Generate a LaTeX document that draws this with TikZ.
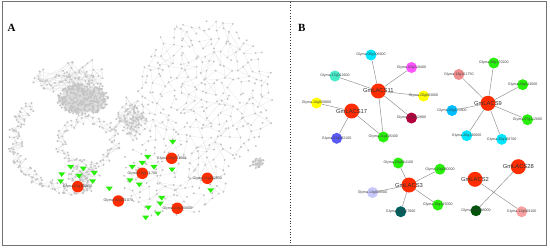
\documentclass[tikz,border=0pt]{standalone}
\usepackage{fontspec}
\setmainfont{Liberation Serif}
\newfontfamily\labelfont{Liberation Sans}
\usetikzlibrary{shapes.geometric}

\definecolor{lacsred}{RGB}{255,45,0}
\definecolor{gcyan}{RGB}{0,230,255}
\definecolor{gturq}{RGB}{70,235,200}
\definecolor{gmagenta}{RGB}{255,85,255}
\definecolor{gyellow}{RGB}{255,255,0}
\definecolor{gcrimson}{RGB}{180,0,60}
\definecolor{ggreen}{RGB}{40,240,10}
\definecolor{gslate}{RGB}{90,90,250}
\definecolor{gpink}{RGB}{240,140,140}
\definecolor{gsky}{RGB}{0,190,255}
\definecolor{glavender}{RGB}{200,200,250}
\definecolor{gteal}{RGB}{0,95,95}
\definecolor{gdkgreen}{RGB}{0,85,10}
\definecolor{glpink}{RGB}{250,160,160}

\newcommand\graywalk[7]{%
	\coordinate (#1-0) at (#3,#4);
	\xdef\wkx{#3}\xdef\wky{#4}
	\foreach \i [count=\k from 0] in {1,...,#2}{
		\pgfmathsetmacro\nwx{\wkx+#7*rand}
		\pgfmathsetmacro\nwy{\wky+#7*rand}
		\pgfmathsetmacro\wdd{((\nwx-#3)/#5)^2+((\nwy-#4)/#6)^2}
		\pgfmathsetmacro\nwx{\wdd>1 ? 2*\wkx-\nwx : \nwx}
		\pgfmathsetmacro\nwy{\wdd>1 ? 2*\wky-\nwy : \nwy}
		\xdef\wkx{\nwx}\xdef\wky{\nwy}
		\pgfmathtruncatemacro\wjj{max(0,\i-2-6*rnd)}
		\coordinate (#1-\i) at (\nwx,\nwy);
		\draw[link] (#1-\k) -- (#1-\i) -- (#1-\wjj);
	}
}
\newcommand\grayblob[6]{%
	\foreach \i in {0,...,#2}{
		\pgfmathsetmacro\wang{360*rnd}
		\pgfmathsetmacro\wrad{sqrt(rnd)}
		\coordinate (#1-\i) at ({#3+#5*\wrad*cos(\wang)},{#4+#6*\wrad*sin(\wang)});
		\ifnum\i>0
			\pgfmathtruncatemacro\wjj{\i*rnd}
			\pgfmathtruncatemacro\wkk{\i-1}
			\draw[link] (#1-\wkk) -- (#1-\i) -- (#1-\wjj);
		\fi
	}
}
\newcommand\grayarc[9]{%
	\foreach \i in {0,...,#2}{
		\pgfmathsetmacro\wang{#7+(#8-#7)/#2*\i+4*rand}
		\pgfmathsetmacro\wrad{1+#9*rand}
		\coordinate (#1-\i) at ({#3+#5*\wrad*cos(\wang)},{#4+#6*\wrad*sin(\wang)});
		\ifnum\i>0
			\pgfmathtruncatemacro\wjj{max(0,\i-1-4*rnd)}
			\pgfmathtruncatemacro\wkk{\i-1}
			\draw[link] (#1-\wkk) -- (#1-\i) -- (#1-\wjj);
		\fi
	}
}
\newcommand\inmask[2]{%
	\pgfmathtruncatemacro\wmask{or(((#1-205)/68)^2+((#2-95)/78)^2<1, ((#1-172)/58)^2+((#2-178)/40)^2<1)}%
}
\newcommand\gridlink[3]{%
	\pgfmathtruncatemacro\wnr{\gr-#1}\pgfmathtruncatemacro\wnc{\gc-#2}%
	\pgfmathsetmacro\wnx{126+7.5*\wnc}\pgfmathsetmacro\wny{17+7.5*\wnr}%
	\inmask{\wnx}{\wny}%
	\pgfmathtruncatemacro\wp{(rnd<#3)*\wmask*(\wnc>=0)*(\wnc<21)*(\wnr>=0)}%
	\ifnum\wp=1 \draw[link] (net-\wnr-\wnc) -- (net-\gr-\gc);\fi
}

\begin{document}
\begin{tikzpicture}[x=1pt,y=-1pt]
	\tikzset{link/.style = {draw=black!15, line width=0.15pt}}
	\tikzset{dot/.style = {fill=black!23}}
	\tikzset{edge/.style = {draw=black!45, line width=0.45pt}}
	\tikzset{hub/.style = {shape=circle, fill=lacsred, minimum size=15pt, inner sep=0pt,
		label={[hublabel]center:#1}}}
	\tikzset{hublabel/.style = {font=\labelfont\fontsize{5.8}{6}\selectfont, text=black!80}}
	\tikzset{gene/.style = {shape=circle, minimum size=11pt, inner sep=0pt,
		label={[genelabel]center:#1}}}
	\tikzset{genelabel/.style = {font=\labelfont\fontsize{3.6}{4}\selectfont, text=black!75}}
	\tikzset{seed/.style = {shape=circle, fill=lacsred, minimum size=11.5pt, inner sep=0pt,
		label={[genelabel]center:#1}}}
	\tikzset{vmark/.style = {isosceles triangle, shape border rotate=270, isosceles triangle apex angle=75,
		fill=ggreen, minimum size=4.6pt, inner sep=0pt}}
	\tikzset{panel/.style = {font=\bfseries\fontsize{11}{12}\selectfont}}
	\useasboundingbox (0,0) rectangle (550,247);
	\fill[white] (0,0) rectangle (550,247);
	\draw[black!55, line width=0.8pt] (2.5,1.5) rectangle (546.5,245.5);
	\draw[black!80, line width=0.7pt, dotted] (290,2) -- (290,245);

	\pgfmathsetseed{4242}
	\graywalk{upper}{90}{75}{78}{45}{22}{10}
	\grayblob{core}{300}{83}{99}{26}{16}
	\graywalk{mid}{90}{125}{118}{22}{28}{9}
	\graywalk{lowleft}{50}{80}{178}{25}{12}{8}
	\graywalk{east}{40}{253}{162}{11}{7}{4}
	\grayarc{ring}{80}{88}{142}{27}{23}{0}{360}{0.22}
	\grayarc{outer}{110}{75}{140}{60}{50}{225}{75}{0.12}
	\foreach \gr in {0,...,26}{
		\foreach \gc in {0,...,20}{
			\pgfmathsetmacro\wgx{126+7.5*\gc}
			\pgfmathsetmacro\wgy{17+7.5*\gr}
			\inmask{\wgx}{\wgy}
			\ifnum\wmask=1
				\coordinate (net-\gr-\gc) at ({\wgx+3.8*rand},{\wgy+3.8*rand});
				\gridlink{0}{1}{0.5}
				\gridlink{1}{0}{0.45}
				\gridlink{1}{-1}{0.25}
				\gridlink{2}{1}{0.12}
				\gridlink{1}{2}{0.1}
			\fi
		}
	}
	\foreach \c/\n in {upper/90, core/300, mid/90, lowleft/50, east/40, ring/80, outer/110}{
		\foreach \i in {0,...,\n} \fill[dot] (\c-\i) circle (1.05pt);
	}
	\foreach \gr in {0,...,26}{
		\foreach \gc in {0,...,20}{
			\inmask{126+7.5*\gc}{17+7.5*\gr}
			\ifnum\wmask=1 \fill[dot] (net-\gr-\gc) circle (1.05pt);\fi
		}
	}

	\node[vmark] (v1) at (70.7,166.7) {};
	\node[vmark] (v2) at (83.3,168.3) {};
	\node[vmark] (v3) at (61.7,174) {};
	\node[vmark] (v4) at (79,175.7) {};
	\node[vmark] (v5) at (94.3,172.7) {};
	\node[vmark] (v6) at (60.7,181) {};
	\node[vmark] (v7) at (92.7,181) {};
	\node[vmark] (v8) at (109.3,188.3) {};
	\node[vmark] (v9) at (147.7,156.7) {};
	\node[vmark] (v10) at (142.3,162.7) {};
	\node[vmark] (v11) at (132.3,166.7) {};
	\node[vmark] (v12) at (154,166.7) {};
	\node[vmark] (v13) at (172.7,141.7) {};
	\node[vmark] (v14) at (172,169.3) {};
	\node[vmark] (v15) at (130,180) {};
	\node[vmark] (v16) at (139.3,184.3) {};
	\node[vmark] (v17) at (210.7,190) {};
	\node[vmark] (v18) at (161.7,197.7) {};
	\node[vmark] (v19) at (160.3,203.3) {};
	\node[vmark] (v20) at (148.3,207.3) {};
	\node[vmark] (v21) at (158,213.3) {};
	\node[vmark] (v22) at (145.7,217.3) {};
	\node[seed=Glyma.01g160850] (s1) at (77.7,186.7) {};
	\node[seed=Glyma.02g201070] (s2) at (118.3,201) {};
	\node[seed=Glyma.10g171780] (s3) at (142.3,173.3) {};
	\node[seed=Glyma.20g031080] (s4) at (171.7,158.3) {};
	\node[seed=Glyma.11g202030] (s5) at (207.3,178.3) {};
	\node[seed=Glyma.03g200000] (s6) at (177.3,208.3) {};
	\node[panel] (pa) at (11.7,28.3) {A};

	\node[panel] (pb) at (301.7,28) {B};
	\node[hub=GmLACS11] (l11) at (378.3,91) {};
	\node[hub=GmLACS17] (l17) at (351.7,111) {};
	\node[hub=GmLACS9] (l9) at (488,103.3) {};
	\node[hub=GmLACS3] (l3) at (409,185) {};
	\node[hub=GmLACS2] (l2) at (475,179.3) {};
	\node[hub=GmLACS28] (l28) at (518.3,166.7) {};
	\node[gene=Glyma.06g206900, fill=gcyan] (g06) at (371,55) {};
	\node[gene=Glyma.17g012600, fill=gturq] (g17a) at (335,76) {};
	\node[gene=Glyma.02g219400, fill=gmagenta] (g02) at (411.5,67.5) {};
	\node[gene=Glyma.20g083000, fill=gyellow] (g20a) at (423.5,96) {};
	\node[gene=Glyma.17g052880, fill=gcrimson] (g17b) at (411.5,118) {};
	\node[gene=Glyma.11g105400, fill=ggreen] (g11) at (383.3,137) {};
	\node[gene=Glyma.16g050800, fill=gyellow] (g16) at (316.5,103) {};
	\node[gene=Glyma.07g032100, fill=gslate] (g07a) at (336.7,138.3) {};
	\node[gene=Glyma.13g151750, fill=gpink] (g13a) at (458.8,74.5) {};
	\node[gene=Glyma.08g170200, fill=ggreen] (g08) at (493.8,63) {};
	\node[gene=Glyma.20g013000, fill=ggreen] (g20b) at (522.7,84.7) {};
	\node[gene=Glyma.15g175800, fill=gsky] (g15) at (452,110.5) {};
	\node[gene=Glyma.07g112600, fill=ggreen] (g07b) at (527.5,119.7) {};
	\node[gene=Glyma.20g130600, fill=gcyan] (g20c) at (466.7,135.7) {};
	\node[gene=Glyma.20g108700, fill=gcyan] (g20d) at (501.7,139.3) {};
	\node[gene=Glyma.20g084100, fill=ggreen] (g20e) at (398.3,163) {};
	\node[gene=Glyma.10g080000, fill=ggreen] (g10a) at (440,169.2) {};
	\node[gene=Glyma.13g069500, fill=glavender] (g13b) at (372.5,192.5) {};
	\node[gene=Glyma.10g157600, fill=gteal] (g10b) at (400.7,211.7) {};
	\node[gene=Glyma.10g145000, fill=ggreen] (g10c) at (437.8,205) {};
	\node[gene=Glyma.05g088000, fill=gdkgreen] (g05) at (476,210.7) {};
	\node[gene=Glyma.12g069100, fill=glpink] (g12) at (521.7,211.7) {};
	\foreach \g in {g06, g17a, g02, g20a, g17b, g11} \draw[edge] (l11) -- (\g);
	\foreach \g in {g16, g07a, g11} \draw[edge] (l17) -- (\g);
	\foreach \g in {g13a, g08, g20b, g15, g07b, g20c, g20d} \draw[edge] (l9) -- (\g);
	\foreach \g in {g20e, g10a, g13b, g10b, g10c} \draw[edge] (l3) -- (\g);
	\draw[edge] (l2) -- (g12);
	\draw[edge] (l28) -- (g05);
\end{tikzpicture}
\end{document}
